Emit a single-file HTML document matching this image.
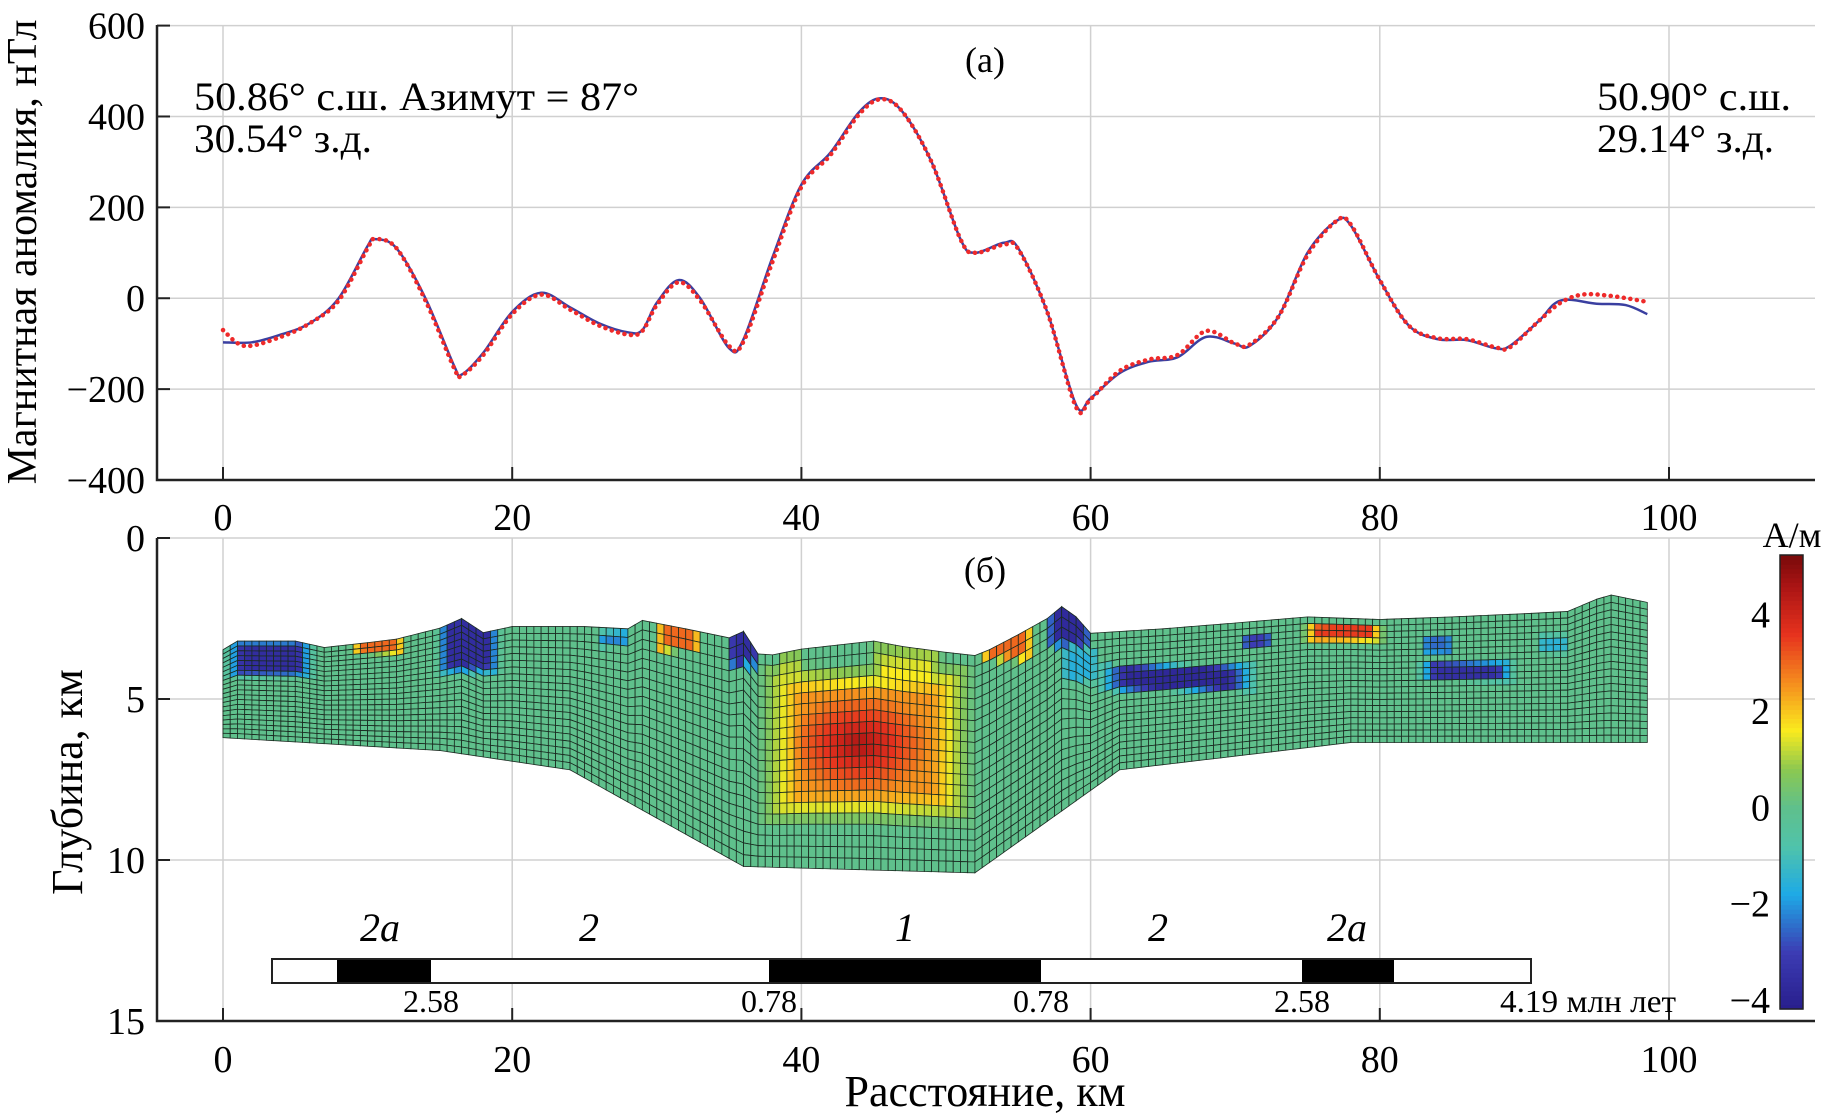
<!DOCTYPE html>
<html><head><meta charset="utf-8"><style>
body{margin:0;background:#fff}
svg{display:block;font-family:"Liberation Serif",serif}
</style></head><body>
<svg id="c" width="1828" height="1118"></svg>
<script>
// top chart data
const obsX=[0,2,4,6,8,10,10.5,12,14,16,16.5,18,20,22,24,26,28,29,30,31.5,33,35,36,38,40,42,44,45.5,47,49,51,52,54,55,57,59,60,62,64,66,68,70,71,73,75,77,78,80,82,84,86,88,89,91,92.5,95,97,98.5];
const obsY=[-97,-97,-80,-55,0,115,130,110,0,-150,-168,-120,-30,12,-20,-55,-75,-70,-10,40,0,-110,-90,90,250,320,410,440,410,300,130,100,122,110,-30,-235,-220,-165,-140,-130,-85,-100,-105,-40,100,170,160,40,-60,-90,-92,-110,-105,-50,-5,-12,-15,-35];
const calX=[0,1.5,4,6,8,10,10.5,12,14,16,16.5,18,20,22,24,26,28,29,30,31.5,33,35,36,38,40,42,44,45.5,47,49,51,52,54,55,57,59,60,62,64,66,68,70,71,73,75,77,78,80,82,84,86,88,89,91,92.5,94,96,98.5];
const calY=[-70,-105,-85,-55,-5,110,130,110,-5,-155,-170,-125,-35,8,-25,-60,-80,-72,-15,35,-5,-105,-95,80,245,315,405,438,410,300,130,100,118,108,-30,-240,-222,-160,-135,-125,-72,-100,-102,-40,95,170,162,40,-60,-88,-90,-108,-108,-50,-10,8,5,-8];
const xTicks=[0,20,40,60,80,100];
const yTicksTop=[600,400,200,0,-200,-400];
const yTicksBot=[0,5,10,15];
const cbTicks=[4,2,0,-2,-4];
// section geometry (km)
const topX=[0,1,5,7,10,12,15,16.5,18,20,25,28,29,32,35,36,37,38,40,45,47,50,52,53,55,57,58,59,60,65,70,75,80,85,90,93,95,96,98.5];
const topD=[3.47,3.2,3.2,3.4,3.25,3.14,2.8,2.5,2.94,2.75,2.75,2.82,2.56,2.82,3.1,2.9,3.6,3.63,3.45,3.2,3.37,3.55,3.65,3.47,3.0,2.5,2.13,2.45,2.96,2.82,2.64,2.45,2.53,2.45,2.35,2.28,1.9,1.77,2.0];
const botX=[0,15,24,36,52,62,78,98.5];
const botD=[6.2,6.6,7.2,10.2,10.4,7.2,6.35,6.35];
// magnetization bodies: x0,x1,d0,d1,value (А/м)
const bodyX0=[0.5,9,15,26,30,35,38.5,38,45,52.5,57,58,61,70.5,75,83,83,91];
const bodyX1=[6,12.5,19,28,33,37,40,51,49.5,56,60,60.5,71,72.5,80,89,85,93];
const bodyD0=[3.2,2.9,2.4,2.9,2.7,2.9,3.4,4.2,3.3,2.6,2.1,3.4,3.95,3.0,2.7,3.85,3.0,3.0];
const bodyD1=[4.3,3.6,4.2,3.4,3.5,4.0,8.6,8.6,8.6,3.8,3.4,4.5,4.75,3.4,3.2,4.45,3.6,3.6];
const bodyV=[-3.6,3,-3.6,-2.2,3,-3.6,1.3,4.6,1.6,3,-3.7,-1.6,-3.8,-3,3.5,-3.5,-2.5,-1.5];

const NS="http://www.w3.org/2000/svg";
const svg=document.getElementById('c');
function mk(t,a,p){const e=document.createElementNS(NS,t);for(const k in a)e.setAttribute(k,a[k]);(p||svg).appendChild(e);return e;}
const X=v=>223+(v)*14.46;
const YT=v=>480-(v+400)*0.4544;
const YB=d=>538+d*32.2;
function interp(xs,ys,x){if(x<=xs[0])return ys[0];for(let i=1;i<xs.length;i++){if(x<=xs[i]){const t=(x-xs[i-1])/(xs[i]-xs[i-1]);return ys[i-1]+t*(ys[i]-ys[i-1]);}}return ys[ys.length-1];}
function smoothPath(xs,ys,fx,fy){const p=xs.map((x,i)=>[fx(x),fy(ys[i])]);let d='M'+p[0][0]+','+p[0][1];for(let i=0;i<p.length-1;i++){const p0=p[Math.max(0,i-1)],p1=p[i],p2=p[i+1],p3=p[Math.min(p.length-1,i+2)];d+=' C'+(p1[0]+(p2[0]-p0[0])/6)+','+(p1[1]+(p2[1]-p0[1])/6)+' '+(p2[0]-(p3[0]-p1[0])/6)+','+(p2[1]-(p3[1]-p1[1])/6)+' '+p2[0]+','+p2[1];}return d;}
function txt(s,x,y,fs,name,extra){const t=mk('text',Object.assign({x:x,y:y,'font-size':fs},extra||{}));t.textContent=s;return t;}

// grids top
for(const t of xTicks){const g=mk('line',{x1:X(t),x2:X(t),y1:25,y2:480,stroke:'#d0d0d0','stroke-width':1.5});}
for(const t of yTicksTop){const g=mk('line',{x1:157,x2:1815,y1:YT(t),y2:YT(t),stroke:'#d0d0d0','stroke-width':1.5});
 txt(t<0?'\u2212'+(-t):String(t),145,YT(t)+13,38,'top-y-tick-label',{'text-anchor':'end'});
 mk('line',{x1:157,x2:170,y1:YT(t),y2:YT(t),stroke:'#222','stroke-width':2});}
for(const t of xTicks){txt(String(t),X(t),530,38,'top-x-tick-label',{'text-anchor':'middle'});
 mk('line',{x1:X(t),x2:X(t),y1:480,y2:467,stroke:'#222','stroke-width':2});}
mk('path',{d:'M157,25 V480 H1815',fill:'none',stroke:'#222','stroke-width':2.5});
const bl=mk('path',{d:smoothPath(obsX,obsY,X,YT),fill:'none',stroke:'#3a3fa0','stroke-width':2.5});
const rl=mk('path',{d:smoothPath(calX,calY,X,YT),fill:'none',stroke:'#ee2a2a','stroke-width':4.5,'stroke-dasharray':'0.1 6.5','stroke-linecap':'round'});
txt('(а)',985,72,36,'panel-a-label',{'text-anchor':'middle'});
txt('50.86° с.ш. Азимут = 87°',194,110,40,'start-coords-lat',{textLength:445,lengthAdjust:'spacingAndGlyphs'});
txt('30.54° з.д.',194,152,40,'start-coords-lon',{textLength:178,lengthAdjust:'spacingAndGlyphs'});
txt('50.90° с.ш.',1597,110,40,'end-coords-lat',{textLength:194,lengthAdjust:'spacingAndGlyphs'});
txt('29.14° з.д.',1597,152,40,'end-coords-lon',{textLength:177,lengthAdjust:'spacingAndGlyphs'});
txt('Магнитная аномалия, нТл',0,0,42,'top-y-axis-title',{transform:'translate(36,252) rotate(-90)','text-anchor':'middle'});

// bottom axes grids
for(const t of xTicks){const g=mk('line',{x1:X(t),x2:X(t),y1:538,y2:1021,stroke:'#d0d0d0','stroke-width':1.5});
 mk('line',{x1:X(t),x2:X(t),y1:1021,y2:1008,stroke:'#222','stroke-width':2});
 txt(String(t),X(t),1072,38,'bottom-x-tick-label',{'text-anchor':'middle'});}
for(const t of yTicksBot){const g=mk('line',{x1:157,x2:1815,y1:YB(t),y2:YB(t),stroke:'#d0d0d0','stroke-width':1.5});
 mk('line',{x1:157,x2:170,y1:YB(t),y2:YB(t),stroke:'#222','stroke-width':2});
 txt(String(t),145,YB(t)+13,38,'bottom-y-tick-label',{'text-anchor':'end'});}

// colormap
const stops=[[-4.19,[40,30,140]],[-3,[60,60,180]],[-1.8,[30,170,230]],[-0.8,[80,195,170]],[0,[95,192,140]],[0.8,[140,200,80]],[1.6,[250,235,30]],[2.6,[245,140,30]],[3.6,[230,50,30]],[4.6,[170,20,20]],[5.24,[120,10,10]]];
function col(v){v=Math.max(-4.19,Math.min(5.24,v));for(let i=1;i<stops.length;i++){if(v<=stops[i][0]){const a=stops[i-1],b=stops[i],t=(v-a[0])/(b[0]-a[0]);return 'rgb('+a[1].map((c,k)=>Math.round(c+t*(b[1][k]-c))).join(',')+')';}}return 'rgb(120,10,10)';}
function field(x,d){let best=0;for(let i=0;i<bodyV.length;i++){const cx=(bodyX0[i]+bodyX1[i])/2,hx=(bodyX1[i]-bodyX0[i])/2,cd=(bodyD0[i]+bodyD1[i])/2,hd=(bodyD1[i]-bodyD0[i])/2;
 const ex=Math.abs(x-cx)/hx,ed=Math.abs(d-cd)/hd;const e=Math.max(ex,ed);if(e<1.15){let w=e<0.7?1:Math.max(0,1-(e-0.7)/0.45);let v=bodyV[i]*w;
 if(i===7){v=bodyV[i]*w*(0.55+0.45*Math.max(0,1-Math.hypot((x-44)/5,(d-6.4)/1.6)));}
 if(Math.abs(v)>Math.abs(best))best=v;}}return best;}
const mesh=mk('g',{});
const NR=20,dx=0.5;
for(let x=0;x<98.5-1e-6;x+=dx){const x2=Math.min(98.5,x+dx);
 for(let r=0;r<NR;r++){const tA=interp(topX,topD,x),bA=interp(botX,botD,x),tB=interp(topX,topD,x2),bB=interp(botX,botD,x2);
  const f0=r/NR,f1=(r+1)/NR;
  const pts=[[X(x),YB(tA+(bA-tA)*f0)],[X(x2),YB(tB+(bB-tB)*f0)],[X(x2),YB(tB+(bB-tB)*f1)],[X(x),YB(tA+(bA-tA)*f1)]];
  const dm=(tA+tB)/2+((bA+bB)/2-(tA+tB)/2)*(r+0.5)/NR;
  const c=mk('polygon',{points:pts.map(p=>p.join(',')).join(' '),fill:col(field(x+dx/2,dm)),stroke:'#1a2a20','stroke-width':0.8},mesh);
  
  }}
mk('path',{d:'M157,538 V1021 H1815',fill:'none',stroke:'#222','stroke-width':2.5});
txt('(б)',985,582,36,'panel-b-label',{'text-anchor':'middle'});
txt('Глубина, км',0,0,44,'bottom-y-axis-title',{transform:'translate(82,782) rotate(-90)','text-anchor':'middle'});
txt('Расстояние, км',985,1106,44,'x-axis-title',{'text-anchor':'middle'});

// polarity bar
mk('rect',{x:272,y:959,width:1259,height:24,fill:'#fff',stroke:'#222','stroke-width':2});
[[337,431],[769,1041],[1302,1394]].forEach(s=>{const r=mk('rect',{x:s[0],y:960,width:s[1]-s[0],height:22,fill:'#000'});});
[['2a',380],['2',589],['1',905],['2',1158],['2a',1347]].forEach(a=>{txt(a[0]==='2a'?'2а':a[0],a[1],941,40,'anomaly-number-label',{'text-anchor':'middle','font-style':'italic'});});
[['2.58',431],['0.78',769],['0.78',1041],['2.58',1302]].forEach(a=>txt(a[0],a[1],1012,32,'age-label',{'text-anchor':'middle'}));
txt('4.19 млн лет',1500,1012,32,'age-label-end',{textLength:176,lengthAdjust:'spacingAndGlyphs'});

// colorbar
const cb=mk('g',{});
const CB=v=>1009-(v+4.19)*(454/9.43);
for(let i=0;i<100;i++){const v0=-4.19+9.43*i/100,v1=-4.19+9.43*(i+1)/100;mk('rect',{x:1780,y:CB(v1),width:23,height:CB(v0)-CB(v1)+0.6,fill:col((v0+v1)/2)},cb);}
mk('rect',{x:1780,y:555,width:23,height:454,fill:'none',stroke:'#222','stroke-width':1.5},cb);
for(const t of cbTicks){txt(t<0?'\u2212'+(-t):String(t),1770,CB(t)+13,38,'colorbar-tick-label',{'text-anchor':'end'});}
txt('А/м',1792,547,36,'colorbar-unit',{'text-anchor':'middle'});
</script>
</body></html>
